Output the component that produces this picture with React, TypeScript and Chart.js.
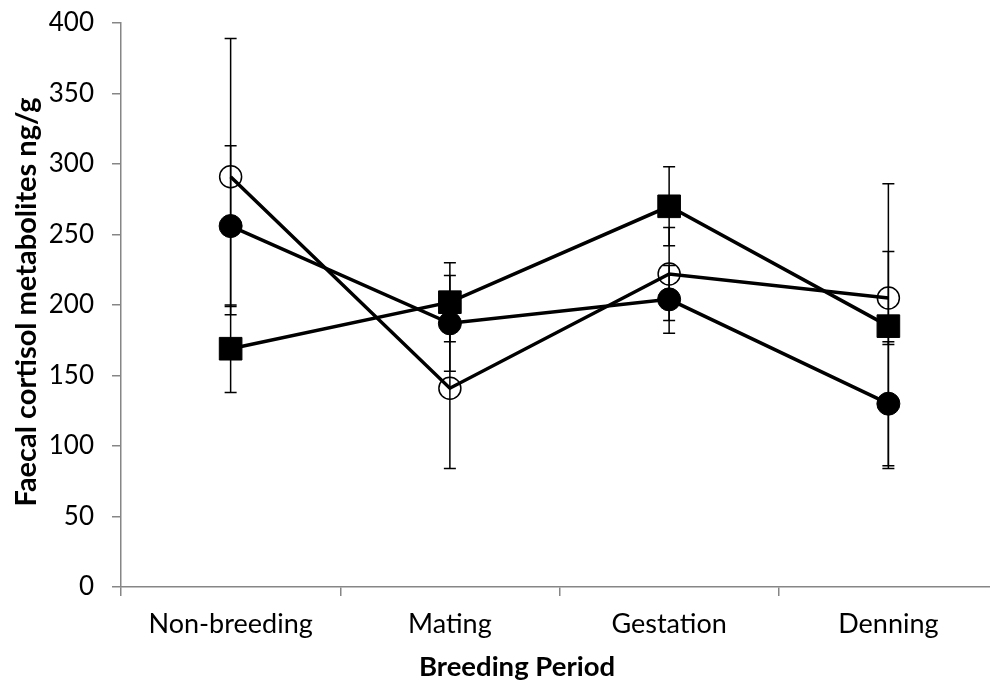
import React, { useEffect, useRef } from "react";
import { Chart, registerables } from "chart.js";

Chart.register(...registerables);

const categories = ["Non-breeding", "Mating", "Gestation", "Denning"];

const openCircleValues = [291, 141, 222, 205];
const openCircleErrors = [98, 57, 33, 33];

const filledCircleValues = [256, 187, 204, 130];
const filledCircleErrors = [57, 34, 24, 44];

const squareValues = [169, 202, 270, 185];
const squareErrors = [31, 28, 28, 101];

const yTicks = [0, 50, 100, 150, 200, 250, 300, 350, 400];

const xTitle = "Breeding Period";
const yTitle = "Faecal cortisol metabolites ng/g";

const FONT = "Lato, 'Open Sans', sans-serif";

const seriesErrors = [openCircleErrors, filledCircleErrors, squareErrors];

const errorBarPlugin = {
  id: "errorBars",
  beforeDatasetsDraw(chart: any) {
    const { ctx, scales } = chart;
    const x = scales.x;
    const y = scales.y;
    ctx.save();
    ctx.strokeStyle = "#000";
    ctx.lineWidth = 1.5;
    chart.data.datasets.forEach((ds: any, di: number) => {
      const errs = seriesErrors[di];
      ds.data.forEach((v: number, i: number) => {
        const px = x.getPixelForValue(i);
        const top = y.getPixelForValue(v + errs[i]);
        const bot = y.getPixelForValue(v - errs[i]);
        ctx.beginPath();
        ctx.moveTo(px, top);
        ctx.lineTo(px, bot);
        ctx.moveTo(px - 6, top);
        ctx.lineTo(px + 6, top);
        ctx.moveTo(px - 6, bot);
        ctx.lineTo(px + 6, bot);
        ctx.stroke();
      });
    });
    ctx.restore();
  },
};

const titlePlugin = {
  id: "axisTitles",
  afterDraw(chart: any) {
    const { ctx } = chart;
    ctx.save();
    ctx.fillStyle = "#000";
    ctx.textAlign = "center";
    ctx.textBaseline = "middle";
    ctx.font = `bold 27.5px ${FONT}`;
    ctx.fillText(xTitle, 517, 667);
    ctx.font = `bold 29px ${FONT}`;
    ctx.translate(27, 302);
    ctx.rotate(-Math.PI / 2);
    ctx.fillText(yTitle, 0, 0);
    ctx.restore();
  },
};

export default function App() {
  const ref = useRef<HTMLCanvasElement>(null);

  useEffect(() => {
    if (!ref.current) return;
    const chart = new Chart(ref.current, {
      type: "line",
      data: {
        labels: categories,
        datasets: [
          {
            label: "Series 1",
            data: openCircleValues,
            borderColor: "#000",
            borderWidth: 3.5,
            pointStyle: "circle",
            pointRadius: 11,
            pointHoverRadius: 11,
            pointBackgroundColor: "rgba(0,0,0,0)",
            pointBorderColor: "#000",
            pointBorderWidth: 1.5,
            tension: 0,
          },
          {
            label: "Series 2",
            data: filledCircleValues,
            borderColor: "#000",
            borderWidth: 3.5,
            pointStyle: "circle",
            pointRadius: 11.5,
            pointHoverRadius: 11.5,
            pointBackgroundColor: "#000",
            pointBorderColor: "#000",
            pointBorderWidth: 1,
            tension: 0,
          },
          {
            label: "Series 3",
            data: squareValues,
            borderColor: "#000",
            borderWidth: 3.5,
            pointStyle: "rect",
            pointRadius: 16,
            pointHoverRadius: 16,
            pointBackgroundColor: "#000",
            pointBorderColor: "#000",
            pointBorderWidth: 1,
            tension: 0,
          },
        ],
      },
      options: {
        responsive: false,
        animation: false,
        devicePixelRatio: 1,
        layout: { autoPadding: false, padding: { top: 23, right: 0, left: 0, bottom: 0 } },
        plugins: {
          legend: { display: false },
          tooltip: { enabled: false },
          title: { display: false },
        },
        scales: {
          x: {
            type: "category",
            offset: true,
            afterFit: (s: any) => {
              s.height = 691 - 587;
              s.paddingLeft = 0;
              s.paddingRight = 0;
            },
            grid: {
              display: true,
              drawOnChartArea: false,
              drawTicks: true,
              tickLength: 9,
              color: "#868686",
              lineWidth: 1.5,
              offset: true,
            },
            border: { color: "#868686", width: 1.5 },
            ticks: {
              color: "#000",
              font: { family: FONT, size: 27 },
              padding: 12,
              maxRotation: 0,
              autoSkip: false,
            },
          },
          y: {
            min: 0,
            max: 400,
            afterFit: (s: any) => {
              s.width = 121;
              s.paddingTop = 0;
              s.paddingBottom = 0;
            },
            afterBuildTicks: (s: any) => {
              s.ticks = yTicks.map((v) => ({ value: v }));
            },
            grid: {
              display: true,
              drawOnChartArea: false,
              drawTicks: true,
              tickLength: 9,
              color: "#868686",
              lineWidth: 1.5,
            },
            border: { color: "#868686", width: 1.5 },
            ticks: {
              color: "#000",
              font: { family: FONT, size: 26 },
              padding: 18,
            },
          },
        },
      },
      plugins: [errorBarPlugin, titlePlugin],
    });
    return () => chart.destroy();
  }, []);

  return (
    <div
      style={{
        position: "fixed",
        left: 0,
        top: 0,
        width: 990,
        height: 691,
        overflow: "hidden",
        background: "#fff",
      }}
    >
      <canvas ref={ref} width={998} height={691} style={{ display: "block" }} />
    </div>
  );
}
